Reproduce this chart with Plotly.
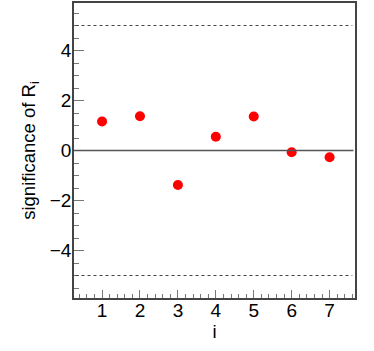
import plotly.graph_objects as go

# data
idx = [1, 2, 3, 4, 5, 6, 7]
significance = [1.16, 1.37, -1.38, 0.55, 1.36, -0.07, -0.27]
limit = 5

fig = go.Figure()

fig.add_trace(go.Scatter(
    x=idx, y=significance, mode='markers',
    marker=dict(color='#ff0000', size=10),
    showlegend=False,
))

# zero line and +-5 sigma limits
fig.add_shape(type='line', xref='x', yref='y', x0=0.26, x1=7.63, y0=0, y1=0,
              line=dict(color='#555555', width=1.5))
for s in (limit, -limit):
    fig.add_shape(type='line', xref='x', yref='y', x0=0.3, x1=7.6, y0=s, y1=s,
                  line=dict(color='#444444', width=1, dash='dot'))

axis_font = dict(family='Liberation Sans, Arial, sans-serif', size=19, color='black')
title_font = dict(family='Liberation Sans, Arial, sans-serif', size=18.5, color='black')

fig.update_layout(
    width=374, height=351,
    margin=dict(l=74, r=19, t=3, b=53),
    plot_bgcolor='white', paper_bgcolor='white',
    font=axis_font,
    xaxis=dict(
        range=[0.26, 7.67], tickvals=idx, ticks='inside', ticklen=8, tickcolor='#777777',
        minor=dict(dtick=0.2, tick0=0, ticks='inside', ticklen=4, tickcolor='#777777'),
        showline=True, linecolor='#444444', linewidth=1.5, mirror=True,
        showgrid=False, zeroline=False, automargin=False, ticklabelstandoff=-6,
        title=dict(text='i', standoff=2, font=title_font), tickfont=axis_font,
    ),
    yaxis=dict(
        range=[-5.9, 5.9], tickvals=[-4, -2, 0, 2, 4], ticks='inside', ticklen=10, tickcolor='#777777',
        minor=dict(dtick=0.5, tick0=0, ticks='inside', ticklen=5, tickcolor='#777777'),
        showline=True, linecolor='#444444', linewidth=1.5, mirror=True,
        showgrid=False, zeroline=False, automargin=False, ticklabelstandoff=-3,
        title=dict(text='significance of R<sub>i</sub>', standoff=9, font=title_font),
        tickfont=axis_font,
    ),
)

# drop the default 8px page margin so the figure sits at the window corner
fig.write_html("out.html", config={'displayModeBar': False},
               post_script="document.body.style.margin='0';")
